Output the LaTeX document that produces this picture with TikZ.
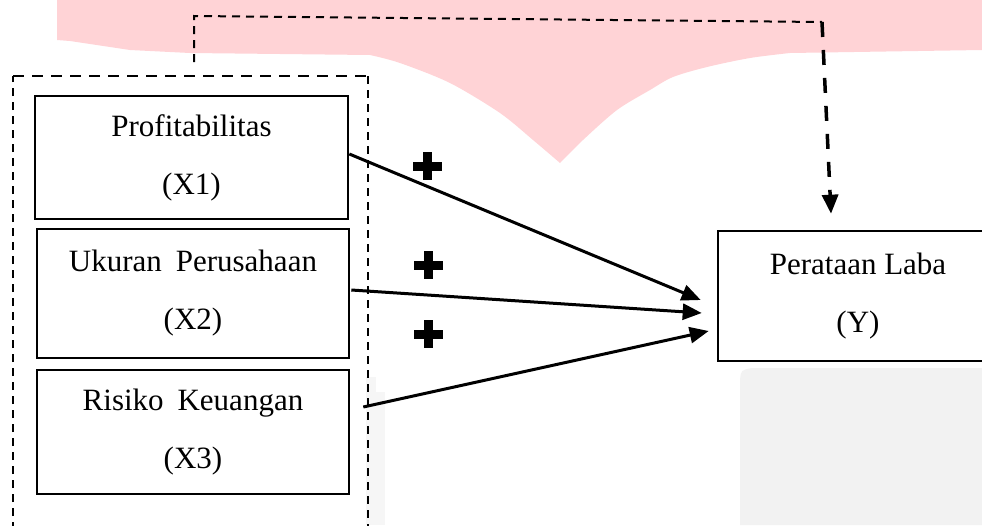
\documentclass[tikz,border=0pt]{standalone}
\usepackage{fontspec}
\setmainfont{Liberation Serif}
\usetikzlibrary{arrows.meta,calc}
\definecolor{wmpink}{RGB}{255,211,214}
\definecolor{wmgray}{RGB}{242,242,242}
\newcommand\plusmark[2]{%
  \fill (#1-14.5,#2-4.5) rectangle ++(29,9);
  \fill (#1-4.5,#2-14) rectangle ++(9,28);}
\begin{document}
\begin{tikzpicture}[x=1pt,y=-1pt,
  box/.style={draw, line width=2.6pt, align=center, inner sep=0pt,
    font=\fontsize{31}{58}\selectfont},
  arr/.style={line width=3pt, -{Triangle[length=19pt,width=16pt]}},
  framev/.style={line width=2pt, dash pattern=on 8pt off 6pt},
  frameh/.style={line width=2pt, dash pattern=on 11pt off 8pt},
  linkthin/.style={line width=2pt, dash pattern=on 8pt off 6pt},
  linkthick/.style={line width=3.5pt, dash pattern=on 15pt off 13pt,
    -{Triangle[length=19pt,width=16pt]}},
]
\useasboundingbox (0,0) rectangle (982,525);
\clip (0,0) rectangle (982,525);
% watermark shapes
\fill[wmpink] (57,0) -- (57,40) -- (70,41) -- (130,50) -- (190,53) -- (370,55)
  -- plot[smooth] coordinates {(370,55) (400,63) (450,83) (500,113) (533,140) (560,163)}
  -- plot[smooth] coordinates {(560,163) (583,140) (617,110) (650,90) (673,77) (707,67) (750,58) (790,53)}
  -- (982,50) -- (982,0) -- cycle;
\fill[wmgray] (740,380) .. controls (741,370) .. (752,368) -- (982,368) -- (982,525) -- (740,525) -- cycle;
\fill[wmgray!70] (366,377) rectangle (376,392);
\fill[wmgray!70] (366,392) rectangle (385,525);
% dashed frame
\draw[framev] (13,530) -- (13,76);
\draw[frameh] (13,76) -- (368,76);
\draw[framev] (368,76) -- (368,530);
% nodes
\node[box, minimum width=313pt, minimum height=123pt] (x1) at (191.5,157.5) {Profitabilitas\\(X1)};
\node[box, minimum width=312pt, minimum height=129pt] (x2) at (193,293.5) {Ukuran\hspace{0.45em}Perusahaan\\(X2)};
\node[box, minimum width=312pt, minimum height=124pt] (x3) at (193,432) {Risiko\hspace{0.45em}Keuangan\\(X3)};
\node[box, minimum width=280pt, minimum height=130pt] (y) at (858,296) {Perataan Laba\\(Y)};
% arrows
\draw[arr] ([yshift=3.5pt]x1.east) -- ([xshift=-16pt,yshift=-4pt]y.west);
\draw[arr] ([xshift=1pt,yshift=3.5pt]x2.east) -- ([xshift=-15pt,yshift=-17pt]y.west);
\draw[arr] ([xshift=13pt,yshift=25pt]x3.east) -- ([xshift=-8pt,yshift=-35pt]y.west);
% plus signs
\plusmark{427}{166}
\plusmark{428}{265}
\plusmark{428}{334}
% top dashed link
\coordinate (l0) at (194,62);
\coordinate (l1) at (194,16);
\coordinate (l2) at (822,22);
\draw[linkthin] (l0) -- (l1) -- (l2);
\draw[linkthick] (l2) -- ([xshift=-27pt,yshift=16pt]y.north);
\end{tikzpicture}
\end{document}
